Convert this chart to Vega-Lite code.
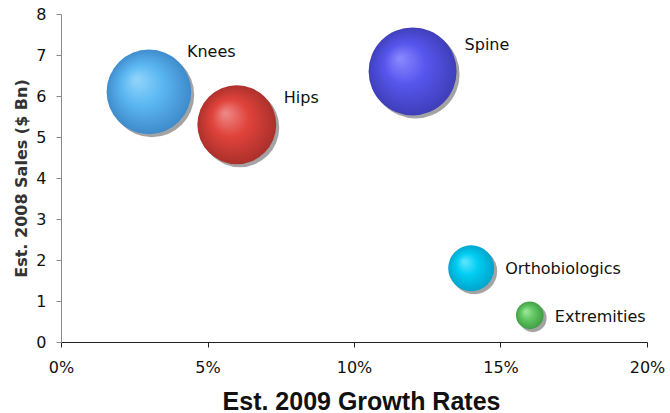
{
  "$schema": "https://vega.github.io/schema/vega-lite/v6.json",
  "width": 586,
  "height": 328,
  "autosize": "none",
  "padding": {"left": 61, "top": 14, "right": 23, "bottom": 71},
  "background": "#ffffff",
  "config": {
    "view": {"stroke": null},
    "font": "DejaVu Sans"
  },
  "data": {
    "values": [
      {"segment": "Knees", "growth": 0.03, "sales": 6.1},
      {"segment": "Hips", "growth": 0.06, "sales": 5.3},
      {"segment": "Spine", "growth": 0.12, "sales": 6.6},
      {"segment": "Orthobiologics", "growth": 0.14, "sales": 1.8},
      {"segment": "Extremities", "growth": 0.16, "sales": 0.65}
    ]
  },
  "encoding": {
    "x": {
      "field": "growth",
      "type": "quantitative",
      "scale": {"domain": [0, 0.2], "nice": false},
      "axis": {
        "title": "Est. 2009 Growth Rates",
        "values": [0, 0.05, 0.1, 0.15, 0.2],
        "format": ".0%",
        "grid": false,
        "labelFlush": false,
        "domainColor": "#222222",
        "tickColor": "#222222",
        "tickSize": 5,
        "labelPadding": 12,
        "labelFont": "DejaVu Sans",
        "labelFontSize": 16,
        "labelColor": "#111111",
        "titleFont": "Liberation Sans",
        "titleFontWeight": "bold",
        "titleFontSize": 25,
        "titleColor": "#111111",
        "titleX": 300,
        "titleY": 67,
        "titleBaseline": "alphabetic"
      }
    },
    "y": {
      "field": "sales",
      "type": "quantitative",
      "scale": {"domain": [0, 8], "nice": false},
      "axis": {
        "title": "Est. 2008 Sales ($ Bn)",
        "values": [0, 1, 2, 3, 4, 5, 6, 7, 8],
        "grid": false,
        "labelFlush": false,
        "domainColor": "#8a8a8a",
        "tickColor": "#8a8a8a",
        "tickSize": 5,
        "labelPadding": 10,
        "labelFont": "DejaVu Sans",
        "labelFontSize": 16,
        "labelColor": "#111111",
        "titleFont": "DejaVu Sans",
        "titleFontWeight": "bold",
        "titleFontSize": 16,
        "titleColor": "#333333",
        "titleX": -40,
        "titleBaseline": "middle"
      }
    }
  },
  "layer": [
    {
      "mark": {"type": "point", "filled": true, "opacity": 0.9, "color": "#999999", "xOffset": 3, "yOffset": 3},
      "encoding": {
        "size": {"field": "sales", "type": "quantitative", "scale": {"domain": [0, 6.6], "range": [0, 7744]}, "legend": null}
      }
    },
    {
      "transform": [{"filter": "datum.segment === 'Knees'"}],
      "mark": {"type": "point", "filled": true, "opacity": 1,
        "fill": {"gradient": "radial", "x1": 0.35, "y1": 0.35, "r1": 0, "x2": 0.5, "y2": 0.5, "r2": 0.52,
          "stops": [{"offset": 0, "color": "#93d5fb"}, {"offset": 0.45, "color": "#5cb8f2"}, {"offset": 1, "color": "#3c88c8"}]}},
      "encoding": {
        "size": {"field": "sales", "type": "quantitative", "scale": {"domain": [0, 6.6], "range": [0, 7744]}, "legend": null}
      }
    },
    {
      "transform": [{"filter": "datum.segment === 'Hips'"}],
      "mark": {"type": "point", "filled": true, "opacity": 1,
        "fill": {"gradient": "radial", "x1": 0.35, "y1": 0.35, "r1": 0, "x2": 0.5, "y2": 0.5, "r2": 0.52,
          "stops": [{"offset": 0, "color": "#ef8a88"}, {"offset": 0.45, "color": "#e0433b"}, {"offset": 1, "color": "#a82f2a"}]}},
      "encoding": {
        "size": {"field": "sales", "type": "quantitative", "scale": {"domain": [0, 6.6], "range": [0, 7744]}, "legend": null}
      }
    },
    {
      "transform": [{"filter": "datum.segment === 'Spine'"}],
      "mark": {"type": "point", "filled": true, "opacity": 1,
        "fill": {"gradient": "radial", "x1": 0.35, "y1": 0.35, "r1": 0, "x2": 0.5, "y2": 0.5, "r2": 0.52,
          "stops": [{"offset": 0, "color": "#8c8aff"}, {"offset": 0.45, "color": "#5656ee"}, {"offset": 1, "color": "#3d3db6"}]}},
      "encoding": {
        "size": {"field": "sales", "type": "quantitative", "scale": {"domain": [0, 6.6], "range": [0, 7744]}, "legend": null}
      }
    },
    {
      "transform": [{"filter": "datum.segment === 'Orthobiologics'"}],
      "mark": {"type": "point", "filled": true, "opacity": 1,
        "fill": {"gradient": "radial", "x1": 0.35, "y1": 0.35, "r1": 0, "x2": 0.5, "y2": 0.5, "r2": 0.52,
          "stops": [{"offset": 0, "color": "#62e7ff"}, {"offset": 0.45, "color": "#00cdf2"}, {"offset": 1, "color": "#00a2c8"}]}},
      "encoding": {
        "size": {"field": "sales", "type": "quantitative", "scale": {"domain": [0, 6.6], "range": [0, 7744]}, "legend": null}
      }
    },
    {
      "transform": [{"filter": "datum.segment === 'Extremities'"}],
      "mark": {"type": "point", "filled": true, "opacity": 1,
        "fill": {"gradient": "radial", "x1": 0.35, "y1": 0.35, "r1": 0, "x2": 0.5, "y2": 0.5, "r2": 0.52,
          "stops": [{"offset": 0, "color": "#a2e9a2"}, {"offset": 0.45, "color": "#62c863"}, {"offset": 1, "color": "#3e9c43"}]}},
      "encoding": {
        "size": {"field": "sales", "type": "quantitative", "scale": {"domain": [0, 6.6], "range": [0, 7744]}, "legend": null}
      }
    },
    {
      "transform": [{"filter": "datum.segment === 'Knees'"}],
      "mark": {"type": "text", "align": "left", "baseline": "alphabetic", "dx": 38, "dy": -35, "font": "DejaVu Sans", "fontSize": 16, "color": "#111111"},
      "encoding": {"text": {"field": "segment"}}
    },
    {
      "transform": [{"filter": "datum.segment === 'Hips'"}],
      "mark": {"type": "text", "align": "left", "baseline": "alphabetic", "dx": 47, "dy": -22, "font": "DejaVu Sans", "fontSize": 16, "color": "#111111"},
      "encoding": {"text": {"field": "segment"}}
    },
    {
      "transform": [{"filter": "datum.segment === 'Spine'"}],
      "mark": {"type": "text", "align": "left", "baseline": "alphabetic", "dx": 52, "dy": -21, "font": "DejaVu Sans", "fontSize": 16, "color": "#111111"},
      "encoding": {"text": {"field": "segment"}}
    },
    {
      "transform": [{"filter": "datum.segment === 'Orthobiologics'"}],
      "mark": {"type": "text", "align": "left", "baseline": "alphabetic", "dx": 34, "dy": 6, "font": "DejaVu Sans", "fontSize": 16, "color": "#111111"},
      "encoding": {"text": {"field": "segment"}}
    },
    {
      "transform": [{"filter": "datum.segment === 'Extremities'"}],
      "mark": {"type": "text", "align": "left", "baseline": "alphabetic", "dx": 25, "dy": 7, "font": "DejaVu Sans", "fontSize": 16, "color": "#111111"},
      "encoding": {"text": {"field": "segment"}}
    }
  ]
}
